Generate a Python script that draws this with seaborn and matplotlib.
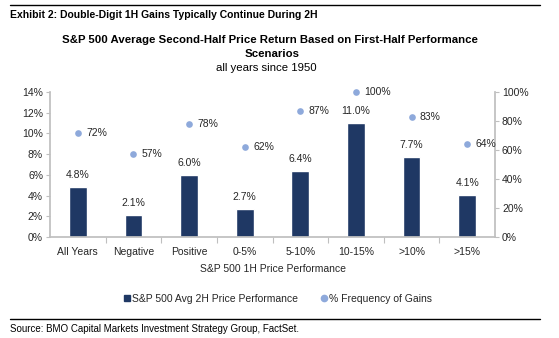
import matplotlib
matplotlib.use("Agg")
import matplotlib.pyplot as plt
import seaborn as sns
import pandas as pd
from matplotlib.lines import Line2D
from matplotlib.ticker import FuncFormatter

categories = ["All Years", "Negative", "Positive", "0-5%", "5-10%", "10-15%", ">10%", ">15%"]
avg_2h = [4.8, 2.1, 6.0, 2.7, 6.4, 11.0, 7.7, 4.1]
freq_gains = [72, 57, 78, 62, 87, 100, 83, 64]

sns.set_theme(style="white")
plt.rcParams['font.family'] = ['Liberation Sans', 'DejaVu Sans']

BAR = "#1F3864"
DOT = "#8EA9DB"
TXT = "#262626"
GRID = "#BFBFBF"
FS = 7.5

df = pd.DataFrame({"cat": categories, "avg": avg_2h, "freq": freq_gains})

fig = plt.figure(figsize=(5.59, 3.38), dpi=100)
ax = fig.add_axes([50/559, 1-237/338, 445/559, 145/338])

sns.barplot(data=df, x="cat", y="avg", color=BAR, width=0.32, ax=ax, saturation=1)
ax.set_ylim(0, 14)
ax.set_yticks(range(0, 15, 2))
ax.yaxis.set_major_formatter(FuncFormatter(lambda v, p: f"{v:.0f}%"))
for c in ax.containers:
    ax.bar_label(c, labels=[f"{v:.1f}%" for v in avg_2h], padding=5, fontsize=FS, color=TXT)

ax2 = ax.twinx()
sns.stripplot(data=df, x="cat", y="freq", color=DOT, jitter=False, size=4.8, ax=ax2,
              clip_on=False, zorder=5)
ax2.set_ylim(0, 100)
ax2.set_yticks(range(0, 101, 20))
ax2.yaxis.set_major_formatter(FuncFormatter(lambda v, p: f"{v:.0f}%"))
for i, v in enumerate(freq_gains):
    ax2.annotate(f"{v}%", (i, v), xytext=(6, 0), textcoords="offset points",
                 va="center", ha="left", fontsize=FS, color=TXT, annotation_clip=False)

ax.set_xlim(-0.5, len(categories) - 0.5)
ax.set_xlabel("S&P 500 1H Price Performance", fontsize=FS, color=TXT, labelpad=5)
ax.set_ylabel("")
ax2.set_ylabel("")
ax2.set_xlabel("")

for a in (ax, ax2):
    for s in a.spines.values():
        s.set_visible(False)
    a.tick_params(axis="y", labelsize=FS, colors=TXT, length=3, width=0.8, color=GRID, pad=2)
ax.spines["left"].set_visible(True)
ax.spines["left"].set_color(GRID)
ax.spines["bottom"].set_visible(True)
ax.spines["bottom"].set_color(GRID)
ax2.spines["right"].set_visible(True)
ax2.spines["right"].set_color(GRID)
ax.tick_params(axis="y", left=True)
ax2.tick_params(axis="y", right=True)

# category ticks: labels at centers, tick marks at boundaries
ax.set_xticks(range(len(categories)))
ax.set_xticklabels(categories)
ax.tick_params(axis="x", length=0, labelsize=FS, colors=TXT, pad=7)
ax.set_xticks([i + 0.5 for i in range(len(categories) - 1)], minor=True)
ax.tick_params(axis="x", which="minor", length=4, color=GRID, width=0.8, bottom=True)

# titles
fig.text(10/559, 1-15/338, "Exhibit 2: Double-Digit 1H Gains Typically Continue During 2H",
         fontsize=7.5, fontweight="bold", color="black", ha="left", va="center")
fig.add_artist(Line2D([10/559, 540/559], [1-5/338, 1-5/338], color="black", lw=1))
fig.text(270/559, 1-40/338, "S&P 500 Average Second-Half Price Return Based on First-Half Performance",
         fontsize=8.2, fontweight="bold", color="black", ha="center", va="center")
fig.text(272/559, 1-54/338, "Scenarios", fontsize=8.2, fontweight="bold", color="black",
         ha="center", va="center")
fig.text(266/559, 1-68/338, "all years since 1950", fontsize=8.2, color="black",
         ha="center", va="center")

handles = [Line2D([], [], marker="s", ls="", color=BAR, markersize=4.5,
                  label="S&P 500 Avg 2H Price Performance"),
           Line2D([], [], marker="o", ls="", color=DOT, markersize=4.5,
                  label="% Frequency of Gains")]
fig.legend(handles=handles, loc="center", bbox_to_anchor=(278/559, 1-299/338), ncol=2,
           frameon=False, fontsize=FS, handlelength=0.6, handletextpad=0.2, columnspacing=2.2,
           labelcolor=TXT)

fig.add_artist(Line2D([10/559, 540/559], [1-319/338, 1-319/338], color="black", lw=1))
fig.text(10/559, 1-329/338, "Source: BMO Capital Markets Investment Strategy Group, FactSet.",
         fontsize=7, color="black", ha="left", va="center")

fig.savefig("out.png", dpi=100)
